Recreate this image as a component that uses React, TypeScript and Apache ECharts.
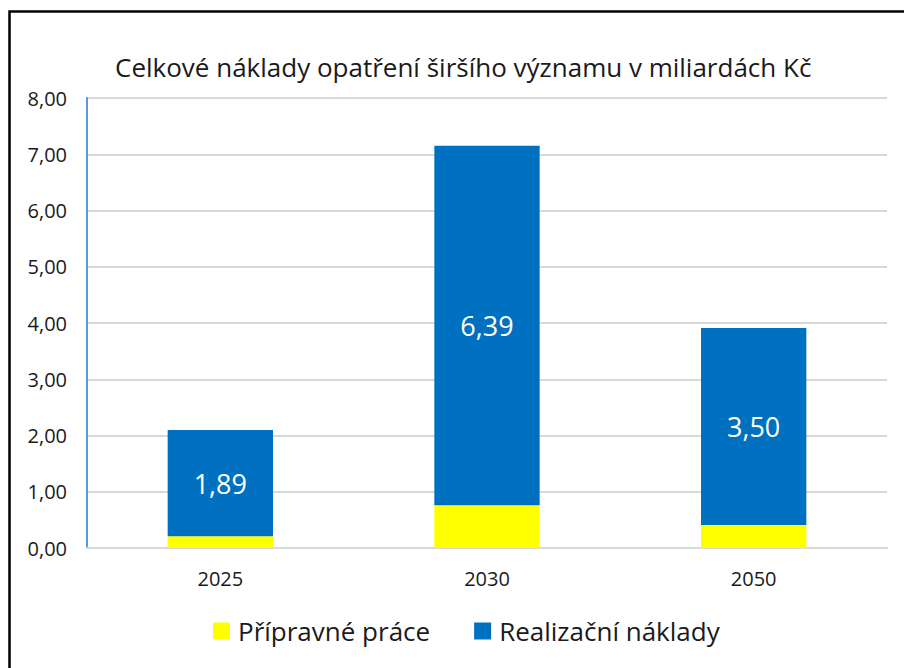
import React, { useEffect, useRef } from "react";
import * as echarts from "echarts";

const categories = ["2025", "2030", "2050"];
const pripravne = [0.21, 0.76, 0.41];
const realizacni = [1.89, 6.39, 3.5];
const yTicks = { min: 0, max: 8, interval: 1 };
const titleText = "Celkové náklady opatření širšího významu v miliardách Kč";
const seriesNames = ["Přípravné práce", "Realizační náklady"];

const FONT = "'Open Sans', 'Noto Sans', sans-serif";
const fmt = (v: number) => v.toFixed(2).replace(".", ",");

export default function App() {
  const ref = useRef<HTMLDivElement>(null);
  useEffect(() => {
    if (!ref.current) return;
    const chart = echarts.init(ref.current, undefined, { renderer: "svg" });
    chart.setOption({
      animation: false,
      backgroundColor: "#ffffff",
      title: {
        text: titleText,
        left: 110,
        top: 49,
        textStyle: { fontFamily: FONT, fontSize: 26, fontWeight: "normal", color: "#1a1a1a" },
      },
      graphic: [
        {
          type: "rect",
          shape: { x: 9.5, y: 11.5, width: 1100, height: 1100 },
          style: { fill: "none", stroke: "#000", lineWidth: 2.5 },
          silent: true,
          z: 100,
        },
      ],
      legend: {
        bottom: 19,
        left: 208,
        itemWidth: 17,
        itemHeight: 17,
        itemGap: 44,
        icon: "rect",
        textStyle: { fontFamily: FONT, fontSize: 26, color: "#1a1a1a", padding: [0, 0, 0, 3] },
        data: seriesNames,
      },
      grid: { left: 87, right: 17, top: 98, bottom: 120, containLabel: false },
      xAxis: {
        type: "category",
        data: categories,
        axisLine: { lineStyle: { color: "#d9d9d9", width: 2 } },
        axisTick: { show: false },
        axisLabel: { fontFamily: FONT, fontSize: 20, color: "#1a1a1a", margin: 20 },
      },
      yAxis: {
        type: "value",
        min: yTicks.min,
        max: yTicks.max,
        interval: yTicks.interval,
        axisLine: { show: true, lineStyle: { color: "#5b9bd5", width: 2 } },
        axisTick: { show: false },
        splitLine: { lineStyle: { color: "#d9d9d9", width: 2 } },
        axisLabel: {
          fontFamily: FONT,
          fontSize: 20,
          color: "#1a1a1a",
          margin: 20,
          formatter: (v: number) => fmt(v),
        },
      },
      series: [
        {
          name: seriesNames[0],
          type: "bar",
          stack: "total",
          barWidth: "39.5%",
          data: pripravne,
          itemStyle: { color: "#ffff00" },
        },
        {
          name: seriesNames[1],
          type: "bar",
          stack: "total",
          data: realizacni,
          itemStyle: { color: "#0070c0" },
          label: {
            show: true,
            position: "inside",
            color: "#ffffff",
            fontFamily: FONT,
            fontSize: 27,
            formatter: (p: any) => fmt(p.value),
          },
        },
      ],
    });
    return () => chart.dispose();
  }, []);
  return (
    <div
      ref={ref}
      style={{ position: "absolute", left: 0, top: 0, width: 904, height: 668 }}
    />
  );
}
